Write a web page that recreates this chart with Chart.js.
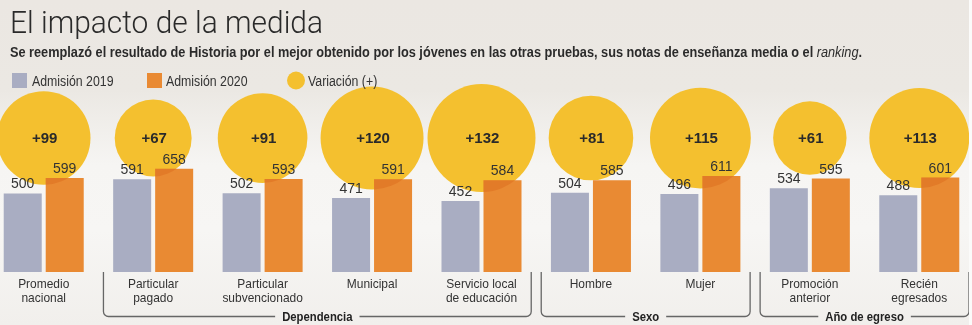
<!DOCTYPE html>
<html lang="es">
<head>
<meta charset="utf-8">
<title>El impacto de la medida</title>
<script src="https://cdn.jsdelivr.net/npm/chart.js@4.4.0/dist/chart.umd.min.js"></script>
<style>
  html, body { margin: 0; padding: 0; }
  body {
    width: 972px; height: 325px; overflow: hidden; position: relative;
    background: linear-gradient(to bottom, #ebe7e2 0px, #ebe8e3 90px, #f6f5f3 165px, #f7f6f4 230px, #f1efec 325px);
  }
  #wrap { position: absolute; left: -11px; top: 0; width: 985px; height: 325px; }
  #edge { position: absolute; right: 0; top: 0; width: 3px; height: 325px; background: #fbfbfa; }
</style>
</head>
<body>
<div id="wrap"><canvas id="impacto"></canvas></div>
<div id="edge"></div>
<script>
const categories = [
  ['Promedio', 'nacional'],
  ['Particular', 'pagado'],
  ['Particular', 'subvencionado'],
  ['Municipal'],
  ['Servicio local', 'de educación'],
  ['Hombre'],
  ['Mujer'],
  ['Promoción', 'anterior'],
  ['Recién', 'egresados']
];
const admision2019 = [500, 591, 502, 471, 452, 504, 496, 534, 488];
const admision2020 = [599, 658, 593, 591, 584, 585, 611, 595, 601];
const variacion = [99, 67, 91, 120, 132, 81, 115, 61, 113];

const groupNames = ['Dependencia', 'Sexo', 'Año de egreso'];
const groupFirst = [1, 5, 7];
const groupLast = [4, 6, 8];

const legendLabels = ['Admisión 2019', 'Admisión 2020', 'Variación (+)'];

const GRAY = '#a9adc2';
const ORANGE = '#e98a33';
const YELLOW = '#f4c02f';
const INK = '#2e2e2e';
const OX = 11;            // canvas starts 11px left of the page
const BUBBLE_LEVEL = 853; // bubbles all sit on one line, in bar units
const Y_MAX = 1350;

function text(ctx, str, x, y, opts) {
  ctx.save();
  ctx.font = opts.font;
  ctx.fillStyle = opts.color || INK;
  ctx.textBaseline = 'alphabetic';
  ctx.textAlign = 'left';
  const w = ctx.measureText(str).width;
  const sx = opts.width ? opts.width / w : (opts.sx || 1);
  const drawn = w * sx;
  let left = x;
  if (opts.align === 'center') left = x - drawn / 2;
  else if (opts.align === 'right') left = x - drawn;
  ctx.translate(left, y);
  ctx.scale(sx, 1);
  ctx.fillText(str, 0, 0);
  ctx.restore();
  return drawn;
}

function measure(ctx, str, font) {
  ctx.save();
  ctx.font = font;
  const w = ctx.measureText(str).width;
  ctx.restore();
  return w;
}

const decor = {
  id: 'decor',
  afterDatasetsDraw(chart) {
    const ctx = chart.ctx;
    const area = chart.chartArea;
    const xs = chart.scales.x;
    const gray = chart.getDatasetMeta(0).data;
    const orange = chart.getDatasetMeta(1).data;
    const bubbles = chart.getDatasetMeta(2).data;

    // darker orange where a bar runs into its bubble
    orange.forEach((bar, i) => {
      const b = bubbles[i];
      ctx.save();
      ctx.beginPath();
      ctx.rect(bar.x - bar.width / 2, bar.y, bar.width, bar.base - bar.y);
      ctx.clip();
      ctx.beginPath();
      ctx.arc(b.x, b.y, b.options.radius, 0, Math.PI * 2);
      ctx.fillStyle = 'rgba(215, 95, 20, 0.35)';
      ctx.fill();
      ctx.restore();
    });

    // values above the bars
    const valueFont = '14px "Liberation Sans", Arial, sans-serif';
    gray.forEach((bar, i) => {
      text(ctx, String(admision2019[i]), bar.x, bar.y - 5, { font: valueFont, align: 'center', color: '#333' });
    });
    orange.forEach((bar, i) => {
      text(ctx, String(admision2020[i]), bar.x, bar.y - 5, { font: valueFont, align: 'center', color: '#333' });
    });

    // variation inside the bubbles
    bubbles.forEach((b, i) => {
      text(ctx, '+' + variacion[i], b.x + 1, b.y + 5, { font: 'bold 15px "Liberation Sans", Arial, sans-serif', align: 'center', color: '#2a2a2a' });
    });

    // category names
    const catFont = '13px "Liberation Sans", Arial, sans-serif';
    categories.forEach((lines, i) => {
      const x = xs.getPixelForValue(i);
      lines.forEach((ln, k) => {
        text(ctx, ln, x, 288 + k * 13.5, { font: catFont, align: 'center', sx: 0.92, color: '#333' });
      });
    });

    // group brackets
    const band = xs.getPixelForValue(1) - xs.getPixelForValue(0);
    const groupFont = 'bold 13px "Liberation Sans", Arial, sans-serif';
    const yLine = 316.5;
    const r = 5;
    groupNames.forEach((name, g) => {
      const x1 = xs.getPixelForValue(groupFirst[g]) - band / 2 + 5;
      const x2 = xs.getPixelForValue(groupLast[g]) + band / 2 - 5;
      const mid = (x1 + x2) / 2;
      const half = measure(ctx, name, groupFont) * 0.87 / 2;
      ctx.save();
      ctx.strokeStyle = '#666';
      ctx.lineWidth = 1.3;
      ctx.beginPath();
      ctx.moveTo(x1, area.bottom);
      ctx.lineTo(x1, yLine - r);
      ctx.arcTo(x1, yLine, x1 + r, yLine, r);
      ctx.lineTo(mid - half - 7, yLine);
      ctx.moveTo(mid + half + 7, yLine);
      ctx.lineTo(x2 - r, yLine);
      ctx.arcTo(x2, yLine, x2, yLine - r, r);
      ctx.lineTo(x2, area.bottom);
      ctx.stroke();
      ctx.restore();
      text(ctx, name, mid, 321, { font: groupFont, align: 'center', sx: 0.87, color: '#222' });
    });

    // heading and legend, placed in page coordinates
    ctx.save();
    ctx.translate(OX, 0);
    text(ctx, 'El impacto de la medida', 10, 33, { font: '300 32px Roboto, sans-serif', width: 313, color: '#2a2a2a' });

    const subFont = 'bold 14px "Liberation Sans", Arial, sans-serif';
    const subItal = 'italic 14px "Liberation Sans", Arial, sans-serif';
    const s1 = 'Se reemplazó el resultado de Historia por el mejor obtenido por los jóvenes en las otras pruebas, sus notas de enseñanza media o el ';
    const s2 = 'ranking';
    const s3 = '.';
    const total = measure(ctx, s1, subFont) + measure(ctx, s2, subItal) + measure(ctx, s3, subFont);
    const k = 852 / total;
    let sx = 10;
    sx += text(ctx, s1, sx, 57, { font: subFont, sx: k, color: '#2b2b2b' });
    sx += text(ctx, s2, sx, 57, { font: subItal, sx: k, color: '#2b2b2b' });
    text(ctx, s3, sx, 57, { font: subFont, sx: k, color: '#2b2b2b' });

    const legFont = '14px "Liberation Sans", Arial, sans-serif';
    ctx.fillStyle = GRAY;
    ctx.fillRect(12, 73, 15, 15);
    text(ctx, legendLabels[0], 32, 85.5, { font: legFont, sx: 0.88, color: '#333' });
    ctx.fillStyle = ORANGE;
    ctx.fillRect(147, 73, 15, 15);
    text(ctx, legendLabels[1], 166, 85.5, { font: legFont, sx: 0.88, color: '#333' });
    ctx.fillStyle = YELLOW;
    ctx.beginPath();
    ctx.arc(296, 80.5, 9, 0, Math.PI * 2);
    ctx.fill();
    text(ctx, legendLabels[2], 308, 85.5, { font: legFont, sx: 0.88, color: '#333' });
    ctx.restore();
  }
};

const ctx = document.getElementById('impacto').getContext('2d');
const chart = new Chart(ctx, {
  type: 'bar',
  data: {
    labels: categories.map((c) => c.join(' ')),
    datasets: [
      {
        label: legendLabels[0],
        data: admision2019,
        backgroundColor: GRAY,
        barPercentage: 0.905,
        categoryPercentage: 0.7675,
        order: 1
      },
      {
        label: legendLabels[1],
        data: admision2020,
        backgroundColor: ORANGE,
        barPercentage: 0.905,
        categoryPercentage: 0.7675,
        order: 2
      },
      {
        type: 'bubble',
        label: legendLabels[2],
        data: variacion.map((v, i) => ({ x: i, y: BUBBLE_LEVEL, r: 4.7 * Math.sqrt(v) })),
        backgroundColor: YELLOW,
        borderWidth: 0,
        hoverRadius: 0,
        clip: false,
        order: 3
      }
    ]
  },
  options: {
    responsive: true,
    maintainAspectRatio: false,
    animation: false,
    events: [],
    layout: { autoPadding: false, padding: { top: 60, bottom: 53, left: 0, right: 0 } },
    scales: {
      x: { type: 'category', offset: true, display: false, grid: { offset: true } },
      y: { display: false, min: 0, max: Y_MAX }
    },
    plugins: {
      legend: { display: false },
      tooltip: { enabled: false }
    }
  },
  plugins: [decor]
});
</script>
</body>
</html>
